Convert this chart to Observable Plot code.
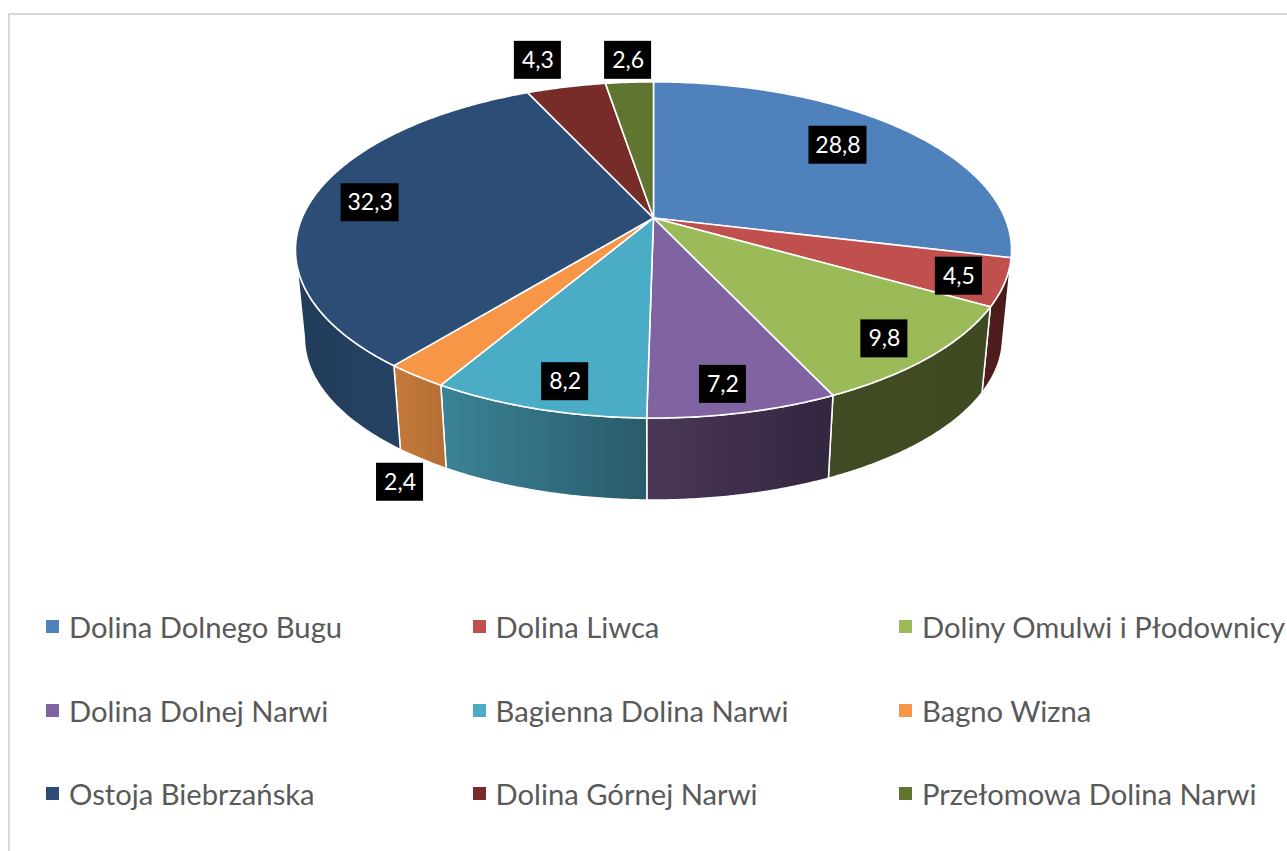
<!DOCTYPE html>
<html lang="pl">
<head>
<meta charset="utf-8">
<script src="https://cdn.jsdelivr.net/npm/d3@7"></script>
<script src="https://cdn.jsdelivr.net/npm/@observablehq/plot@0.6"></script>
<style>
html,body{margin:0;padding:0;background:#fff;overflow:hidden;width:1287px;height:851px}
#frame{position:fixed;left:8px;top:13px;right:-4px;bottom:-4px;border-left:2px solid #d9d9d9;border-top:2px solid #d9d9d9;pointer-events:none}
#chart svg{display:block}
#legend{display:grid;grid-template-columns:426.5px 426.5px 400px;grid-auto-rows:83.5px;padding-left:46px;font-family:Lato,sans-serif;font-size:29.2px;color:#595959;white-space:nowrap}
#legend div{display:flex;align-items:center}
#legend span.s{display:inline-block;width:13px;height:13px;margin-right:10px;flex:none}
</style>
</head>
<body>
<div id="chart"></div>
<div id="legend"></div>
<div id="frame"></div>
<script>
const names = ["Dolina Dolnego Bugu","Dolina Liwca","Doliny Omulwi i Płodownicy","Dolina Dolnej Narwi","Bagienna Dolina Narwi","Bagno Wizna","Ostoja Biebrzańska","Dolina Górnej Narwi","Przełomowa Dolina Narwi"];
const values = [28.8,4.5,9.8,7.2,8.2,2.4,32.3,4.3,2.6];
const valueLabels = ["28,8","4,5","9,8","7,2","8,2","2,4","32,3","4,3","2,6"];
const topColors = ["#4f81bd","#c0504d","#9bbb59","#8064a2","#4bacc6","#f79646","#2c4d75","#772c2a","#5f7530"];
const sideColorsFrom = ["#3a5f8c","#521f1d","#414b23","#4a3757","#3a8397","#c47a3a","#223c5a","#521f1d","#414b23"];
const sideColorsTo = ["#3a5f8c","#461a18","#3f4922","#33263f","#2a5b6a","#b56e35","#264264","#521f1d","#414b23"];
const labelShiftX = [-18,28,16,0,0,-71,-10,-44,-6];
const labelShiftY = [0,7,13,17,17,142,0,-50,-46];

const W = 1287, H = 585;
const cx = 653.5, a = 0.19, kx = 351.5, ky = 162;
function project(angle, r, floor) {
  const x = r * Math.sin(angle), y = -r * Math.cos(angle), w = 1 - a * y;
  const X = kx * x / w, Y = ky * y / w;
  return floor ? [cx + X * 0.975, 307 + Y * 0.965] : [cx + X, 218 + Y];
}
const arcs = d3.pie().sort(null)(values);
const slices = arcs.map((arc, i) => {
  const n = Math.max(2, Math.ceil((arc.endAngle - arc.startAngle) / 0.008));
  const pts = d3.range(n + 1).map(j => {
    const t = arc.startAngle + (arc.endAngle - arc.startAngle) * j / n;
    const p = project(t, 1, false), q = project(t, 1, true);
    return {x: p[0], y: p[1], xb: q[0], yb: q[1], front: -Math.cos(t)};
  });
  return {i, pts, mid: (arc.startAngle + arc.endAngle) / 2};
});
const centre = project(0, 0, false);

function defs() {
  const d = d3.create("svg:defs");
  values.forEach((_, i) => {
    const g = d.append("linearGradient").attr("id", "side" + i).attr("x1", 0).attr("x2", 1).attr("y1", 0).attr("y2", 0);
    g.append("stop").attr("offset", "0%").attr("stop-color", sideColorsFrom[i]);
    g.append("stop").attr("offset", "100%").attr("stop-color", sideColorsTo[i]);
  });
  return d.node();
}

const labels = slices.map(s => {
  const p = project(s.mid, 0.8, false);
  const text = valueLabels[s.i];
  return {x: p[0] + labelShiftX[s.i], y: p[1] + labelShiftY[s.i], text, half: text.length > 3 ? 29 : 23.5};
});

// Only the part of each rim in front of the silhouette point is visible
const sideMarks = slices
  .filter(s => d3.max(s.pts, p => p.front) > 0.3)
  .map(s => Plot.area(s.pts.filter(p => p.front >= a), {x1: "x", y1: "y", x2: "xb", y2: "yb", fill: `url(#side${s.i})`, stroke: "#fff", strokeWidth: 1.5, curve: "linear"}));
const topMarks = slices.map(s =>
  Plot.area(s.pts, {x1: () => centre[0], y1: () => centre[1], x2: "x", y2: "y", fill: topColors[s.i], stroke: "#fff", strokeWidth: 1.6, strokeLinejoin: "round", curve: "linear"}));

const plot = Plot.plot({
  width: W, height: H, margin: 0,
  style: {background: "transparent"},
  x: {domain: [0, W], range: [0, W], axis: null},
  y: {domain: [0, H], range: [0, H], axis: null},
  marks: [
    defs,
    ...sideMarks,
    ...topMarks,
    Plot.rect(labels, {x1: d => d.x - d.half, x2: d => d.x + d.half, y1: d => d.y - 19, y2: d => d.y + 19, fill: "#000"}),
    Plot.text(labels, {x: "x", y: "y", text: "text", fill: "#fff", fontSize: 23, fontFamily: "Lato, sans-serif"})
  ]
});
document.getElementById("chart").append(plot);

const legend = d3.select("#legend");
names.forEach((n, i) => {
  const row = legend.append("div");
  row.append("span").attr("class", "s").style("background", topColors[i]);
  row.append("span").text(n);
});
</script>
</body>
</html>
